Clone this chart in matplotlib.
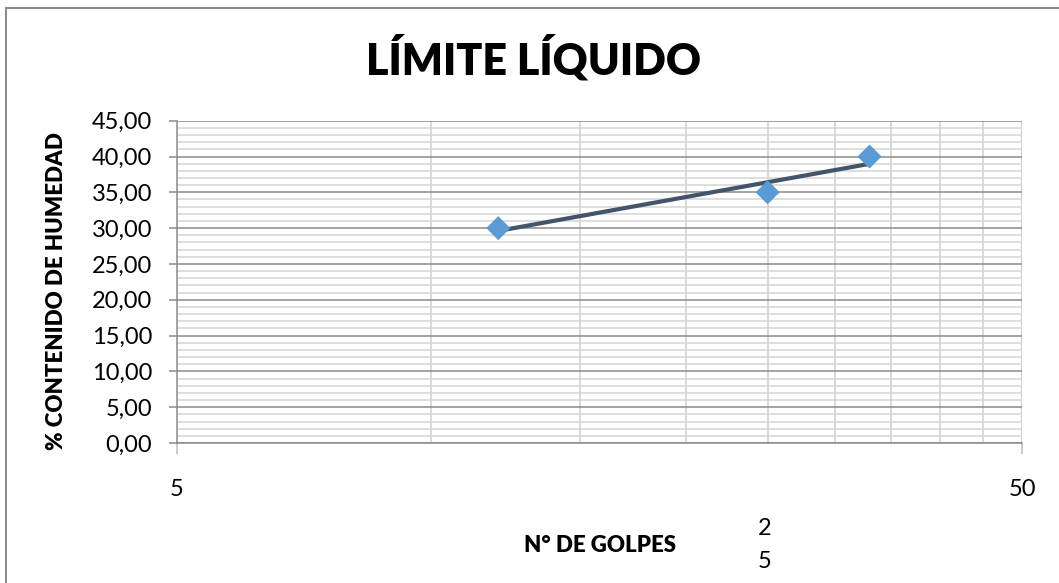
import numpy as np
import matplotlib
matplotlib.use('Agg')
import matplotlib.pyplot as plt
from matplotlib.ticker import FixedLocator, FuncFormatter, NullFormatter
from matplotlib.patches import Rectangle

plt.rcParams['font.family'] = ['Lato', 'DejaVu Sans']

# ensayo de limite liquido (Casagrande)
golpes = [12, 25, 33]
humedad = [30.0, 35.0, 40.0]

x_ticks = [5, 50]
x_minor = [10, 15, 20, 25, 30, 35, 40, 45]
y_ticks = list(range(0, 46, 5))

fig = plt.figure(figsize=(10.59, 5.83), dpi=100)
ax = fig.add_axes([177 / 1059, 1 - 443 / 583, (1022 - 177) / 1059, (443 - 120.7) / 583])

# marco del grafico
fig.patches.append(Rectangle((6 / 1059, -0.1), 1.2, 1 - 8 / 583 + 0.1, transform=fig.transFigure,
                             fill=False, edgecolor='#8c8c8c', linewidth=1.5, zorder=0))

ax.set_xscale('log')
ax.set_xlim(5, 50)
ax.set_ylim(0, 45)

ax.xaxis.set_major_locator(FixedLocator(x_ticks))
ax.xaxis.set_minor_locator(FixedLocator(x_minor))
ax.xaxis.set_major_formatter(FuncFormatter(lambda v, p: f'{v:g}'))
ax.xaxis.set_minor_formatter(NullFormatter())
ax.yaxis.set_major_locator(FixedLocator(y_ticks))
ax.yaxis.set_minor_locator(FixedLocator([v for v in range(0, 46) if v % 5]))
ax.yaxis.set_major_formatter(FuncFormatter(lambda v, p: f'{v:.2f}'.replace('.', ',')))

ax.grid(True, axis='y', which='major', color='#8a8a8a', linewidth=1.1, zorder=0)
ax.grid(True, axis='y', which='minor', color='#d4d4d4', linewidth=1.1, zorder=0)
ax.grid(True, axis='x', which='minor', color='#cfcfcf', linewidth=1.1, zorder=0)
ax.grid(False, axis='x', which='major')
ax.axvline(50, color='#bdbdbd', linewidth=1.1, zorder=0)

for s in ['top', 'right']:
    ax.spines[s].set_visible(False)
ax.spines['left'].set_color('#8a8a8a')
ax.spines['bottom'].set_color('#8a8a8a')
ax.spines['left'].set_linewidth(1.1)
ax.spines['bottom'].set_linewidth(1.1)

ax.tick_params(axis='y', which='major', length=6, width=1.1, color='#8a8a8a',
               labelsize=17, pad=12)
ax.tick_params(axis='x', which='major', length=8, width=1.1, color='#bdbdbd',
               labelsize=17, pad=18)
ax.tick_params(which='minor', length=0)

# linea de tendencia logaritmica
a, b = np.polyfit(np.log(golpes), humedad, 1)
xt = np.linspace(min(golpes), max(golpes), 50)
ax.plot(xt, a * np.log(xt) + b, color='#44546a', linewidth=3, solid_capstyle='round', zorder=3)

ax.scatter(golpes, humedad, marker='D', s=150, color='#5b9bd5', edgecolors='none', zorder=4)

fig.text(533 / 1059, 1 - 58 / 583, 'LÍMITE LÍQUIDO', ha='center', va='center',
         fontsize=31, fontweight='heavy')
fig.text(57 / 1059, 1 - 291 / 583, '% CONTENIDO DE HUMEDAD', rotation=90, ha='center',
         va='center', fontsize=16, fontweight='heavy')
fig.text(600 / 1059, 1 - 545 / 583, 'N° DE GOLPES', ha='center', va='center',
         fontsize=16, fontweight='heavy')
fig.text(765 / 1059, 1 - 545 / 583, '2\n5', ha='center', va='center',
         fontsize=17, linespacing=1.75)

fig.savefig('out.png', dpi=100)
